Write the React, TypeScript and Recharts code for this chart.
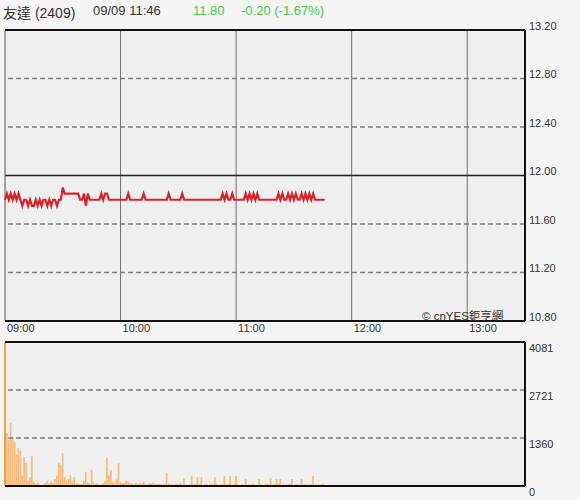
import {
  ComposedChart,
  Line,
  Bar,
  XAxis,
  YAxis,
  CartesianGrid,
  ReferenceLine,
} from "recharts";

// minute-by-minute quotes from 09:00 to 11:46
const prices = [
  11.8, 11.85, 11.8, 11.85, 11.8, 11.85, 11.8, 11.85, 11.8, 11.75,
  11.8, 11.8, 11.75, 11.8, 11.75, 11.75, 11.8, 11.75, 11.8, 11.75,
  11.8, 11.8, 11.75, 11.8, 11.75, 11.8, 11.8, 11.75, 11.8, 11.8,
  11.9, 11.85, 11.85, 11.85, 11.85, 11.85, 11.85, 11.85, 11.85, 11.8,
  11.8, 11.85, 11.75, 11.85, 11.8, 11.8, 11.8, 11.8, 11.8, 11.8,
  11.85, 11.8, 11.85, 11.85, 11.8, 11.8, 11.8, 11.8, 11.8, 11.8,
  11.8, 11.8, 11.8, 11.8, 11.85, 11.8, 11.8, 11.8, 11.8, 11.8,
  11.8, 11.8, 11.85, 11.8, 11.8, 11.8, 11.8, 11.8, 11.8, 11.8,
  11.8, 11.8, 11.8, 11.8, 11.8, 11.85, 11.8, 11.8, 11.8, 11.8,
  11.8, 11.8, 11.85, 11.8, 11.8, 11.8, 11.8, 11.8, 11.8, 11.8,
  11.8, 11.8, 11.8, 11.8, 11.8, 11.8, 11.8, 11.8, 11.8, 11.8,
  11.8, 11.8, 11.8, 11.85, 11.8, 11.85, 11.8, 11.8, 11.85, 11.8,
  11.8, 11.8, 11.8, 11.8, 11.8, 11.85, 11.8, 11.85, 11.8, 11.85,
  11.8, 11.85, 11.8, 11.8, 11.8, 11.8, 11.8, 11.8, 11.8, 11.8,
  11.8, 11.8, 11.85, 11.8, 11.85, 11.8, 11.8, 11.85, 11.8, 11.85,
  11.8, 11.85, 11.8, 11.8, 11.85, 11.8, 11.85, 11.8, 11.85, 11.8,
  11.85, 11.8, 11.8, 11.8, 11.8, 11.8, 11.8,
];

const volumes = [
  4081, 1500, 1300, 1780, 1400, 1250, 900, 1075, 1000, 300,
  820, 650, 150, 250, 850, 120, 60, 80, 40, 30,
  50, 100, 150, 60, 120, 80, 200, 300, 650, 600,
  933, 250, 150, 200, 300, 150, 250, 60, 80, 50,
  60, 150, 400, 100, 80, 450, 120, 60, 80, 40,
  50, 80, 150, 800, 300, 450, 120, 100, 200, 650,
  120, 80, 100, 150, 120, 80, 60, 40, 100, 60,
  80, 60, 120, 50, 40, 80, 60, 100, 50, 40,
  60, 50, 40, 60, 370, 60, 40, 50, 30, 60,
  40, 80, 50, 230, 40, 30, 60, 280, 40, 60,
  250, 40, 250, 30, 50, 40, 30, 60, 40, 250,
  50, 30, 40, 60, 280, 40, 50, 280, 30, 60,
  280, 40, 30, 50, 40, 200, 30, 50, 40, 60,
  30, 40, 200, 50, 30, 40, 60, 40, 230, 30,
  50, 200, 60, 200, 40, 30, 50, 40, 60, 200,
  30, 40, 50, 30, 200, 40, 60, 30, 40, 50,
  280, 40, 30, 50, 40, 60, 30,
];

const timeTicks = [0, 60, 120, 180, 240];
const timeLabels = ["09:00", "10:00", "11:00", "12:00", "13:00"];
const priceTicks = [10.8, 11.2, 11.6, 12.0, 12.4, 12.8, 13.2];
const priceDashed = [11.2, 11.6, 12.4, 12.8];
const volTicks = [0, 1360, 2721, 4081];
const volDashed = [1360, 2721];

const priceData = prices.map((p, i) => ({ t: i, price: p }));
const volData = volumes.map((v, i) => ({ t: i, vol: v }));

const FONT = "'Liberation Sans', Arial, 'Noto Sans CJK TC', sans-serif";
const GREEN = "#45c845";

const PriceTick = ({ x, y, payload }: any) => (
  <text x={x} y={y} dy={-3} fontSize={11} fill="#333" fontFamily={FONT} dominantBaseline="middle">
    {Number(payload.value).toFixed(2)}
  </text>
);

const VolTick = ({ x, y, payload }: any) => (
  <text x={x} y={y} dy={7} fontSize={11} fill="#333" fontFamily={FONT} dominantBaseline="middle">
    {payload.value}
  </text>
);

const TimeTick = ({ x, y, payload }: any) => (
  <text x={x + 2} y={y} dy={8} fontSize={11} fill="#333" fontFamily={FONT} dominantBaseline="middle">
    {timeLabels[timeTicks.indexOf(payload.value)]}
  </text>
);

export default function App() {
  return (
    <div
      style={{
        position: "absolute",
        left: 0,
        top: 0,
        width: 580,
        height: 500,
        background: "#f5f5f5",
        fontFamily: FONT,
        overflow: "hidden",
      }}
    >
      <div style={{ position: "absolute", left: 3, top: 2, fontSize: 13, color: "#333", whiteSpace: "nowrap" }}>
        <span style={{ fontSize: 14 }}>友達 (2409)</span>
        <span style={{ position: "absolute", left: 90, top: 1 }}>09/09 11:46</span>
        <span style={{ position: "absolute", left: 190, top: 1, color: GREEN }}>11.80</span>
        <span style={{ position: "absolute", left: 238, top: 1, color: GREEN, whiteSpace: "nowrap" }}>-0.20 (-1.67%)</span>
      </div>

      <div style={{ position: "absolute", left: 0, top: 0 }}>
        <ComposedChart width={580} height={340} data={priceData} margin={{ top: 30, right: 0, bottom: 0, left: 5 }}>
          <CartesianGrid horizontal={false} vertical={false} fill="#efefef" />
          <XAxis
            dataKey="t"
            type="number"
            domain={[0, 270]}
            ticks={timeTicks}
            tick={<TimeTick />}
            tickLine={false}
            axisLine={false}
            tickSize={0}
            tickMargin={0}
            height={19}
          />
          <YAxis
            orientation="right"
            type="number"
            domain={[10.8, 13.2]}
            ticks={priceTicks}
            tick={<PriceTick />}
            tickLine={false}
            axisLine={false}
            tickSize={0}
            tickMargin={4}
            width={55}
          />
          {priceDashed.map((v) => (
            <ReferenceLine key={v} y={v} stroke="#808080" strokeWidth={1.5} strokeDasharray="5 3" />
          ))}
          {timeTicks.slice(1).map((v) => (
            <ReferenceLine key={v} x={v} stroke="#707070" strokeWidth={1} />
          ))}
          <ReferenceLine y={12.0} stroke="#222" strokeWidth={1.5} />
          <ReferenceLine x={0} stroke="#555" strokeWidth={1} />
          <ReferenceLine x={270} stroke="#111" strokeWidth={2} />
          <ReferenceLine y={13.2} stroke="#111" strokeWidth={2} />
          <ReferenceLine y={10.8} stroke="#111" strokeWidth={2} />
          <Line
            dataKey="price"
            type="linear"
            stroke="#d8232a"
            strokeWidth={2.2}
            dot={false}
            isAnimationActive={false}
          />
        </ComposedChart>
      </div>

      <div style={{ position: "absolute", left: 422, top: 307, fontSize: 11.5, color: "#333", whiteSpace: "nowrap" }}>
        © cnYES鉅亨網
      </div>

      <div style={{ position: "absolute", left: 0, top: 322 }}>
        <ComposedChart width={580} height={178} data={volData} margin={{ top: 20, right: 0, bottom: 14, left: 5 }}>
          <CartesianGrid horizontal={false} vertical={false} fill="#efefef" />
          <XAxis dataKey="t" type="number" domain={[0, 270]} hide />
          <YAxis
            orientation="right"
            type="number"
            domain={[0, 4081]}
            ticks={volTicks}
            tick={<VolTick />}
            tickLine={false}
            axisLine={false}
            tickSize={0}
            tickMargin={4}
            width={55}
          />
          {volDashed.map((v) => (
            <ReferenceLine key={v} y={v} stroke="#808080" strokeWidth={1.5} strokeDasharray="5 3" />
          ))}
          <Bar dataKey="vol" fill="#f4bc80" barSize={2} isAnimationActive={false} />
          <ReferenceLine x={0} stroke="#e39a3a" strokeWidth={1.5} />
          <ReferenceLine x={270} stroke="#111" strokeWidth={2} />
          <ReferenceLine y={4081} stroke="#111" strokeWidth={2} />
          <ReferenceLine y={0} stroke="#111" strokeWidth={2} />
        </ComposedChart>
      </div>
    </div>
  );
}
